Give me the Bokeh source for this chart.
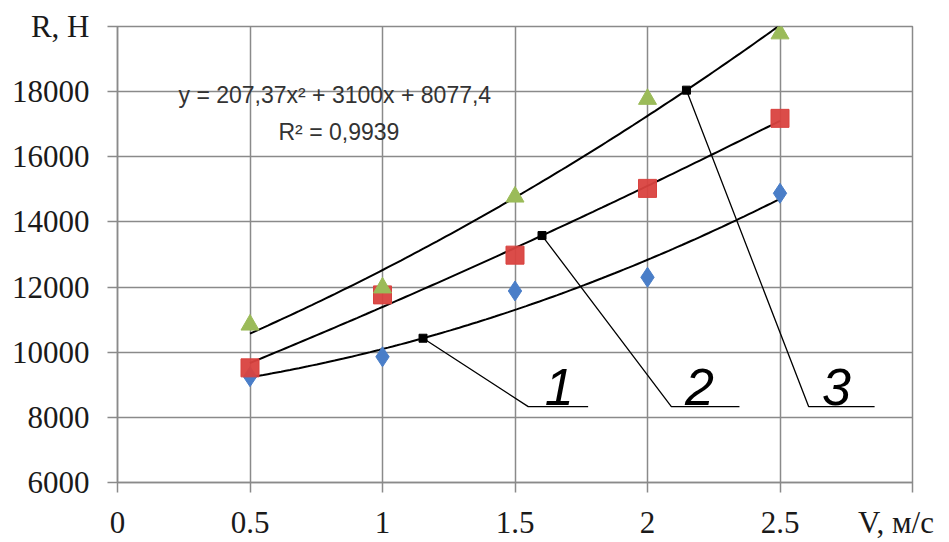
import numpy as np
from bokeh.plotting import figure
from bokeh.models import Range1d, FixedTicker, CustomJSTickFormatter, Label, ColumnDataSource
from bokeh.core.properties import value
from bokeh.embed import file_html
from bokeh.resources import INLINE

# ---- data ----
speed = [0.5, 1.0, 1.5, 2.0, 2.5]
series1 = [9250, 9860, 11880, 12300, 14880]     # blue diamonds
series2 = [9520, 11760, 12980, 15030, 17180]    # red squares
series3 = [10840, 11980, 14770, 17770, 19780]   # green triangles
x_ticks = [0, 0.5, 1, 1.5, 2, 2.5, 3]
y_ticks = [6000, 8000, 10000, 12000, 14000, 16000, 18000, 20000]
eq_text = "y = 207,37x\u00b2 + 3100x + 8077,4"
r2_text = "R\u00b2 = 0,9939"
y_title = "R, H"
x_title = "V, \u043c/\u0441"

# annotation callouts (curve point x, elbow x, end x, label x, label)
call_curve_x = [1.153, 1.602, 2.147]
call_elbow_x = [1.55, 2.09, 2.608]
call_end_x = [1.776, 2.347, 2.857]
call_label_x = [1.667, 2.196, 2.713]
call_line_y = 8330
call_labels = ["1", "2", "3"]

GRID = "#8a8a8a"
BLUE = "#4A7EC8"
RED = "#D9423F"
GREEN = "#9BBB59"

p = figure(width=949, height=542, output_backend="svg", toolbar_location=None,
           x_range=Range1d(0, 3), y_range=Range1d(6000, 20000),
           min_border_left=117, min_border_right=37, min_border_top=26, min_border_bottom=59)
p.background_fill_color = "white"
p.border_fill_color = "white"
p.outline_line_color = GRID
p.outline_line_width = 1.5

p.xaxis.ticker = FixedTicker(ticks=x_ticks)
p.yaxis.ticker = FixedTicker(ticks=y_ticks)
pad = "\u00a0" * 2
p.xaxis.formatter = CustomJSTickFormatter(
    code="return tick == 3 ? %r : String(tick);" % (x_title + pad))
p.yaxis.formatter = CustomJSTickFormatter(
    code="return tick == 20000 ? %r : String(tick);" % y_title)
for ax in (p.xaxis, p.yaxis):
    ax.axis_line_color = GRID
    ax.axis_line_width = 1.5
    ax.major_tick_line_color = GRID
    ax.major_tick_line_width = 1.5
    ax.major_tick_out = 10
    ax.major_tick_in = 0
    ax.minor_tick_line_color = None
    ax.major_label_text_font = "Liberation Serif"
    ax.major_label_text_font_size = "31px"
    ax.major_label_text_color = "#1a1a1a"
p.xaxis.major_label_standoff = 12
p.yaxis.major_label_standoff = 18

p.xgrid.grid_line_color = GRID
p.ygrid.grid_line_color = GRID
p.xgrid.grid_line_width = 1.5
p.ygrid.grid_line_width = 1.5

# trend lines (quadratic fits of each series)
xs = np.linspace(speed[0], speed[-1], 120)
fits = [np.polyfit(speed, s, 2) for s in (series1, series2, series3)]
for c in fits:
    p.line(xs, np.polyval(c, xs), line_color="black", line_width=2)

# markers
p.scatter(speed, series1, marker="diamond", size=20, fill_color=BLUE, line_color=BLUE)
p.scatter(speed, series2, marker="square", size=18, fill_color=RED, line_color=RED, fill_alpha=0.95)
p.scatter(speed, series3, marker="triangle", size=18, fill_color=GREEN, line_color=GREEN)

# callouts
cy = [float(np.polyval(c, x)) for c, x in zip(fits, call_curve_x)]
for i in range(3):
    p.line([call_curve_x[i], call_elbow_x[i], call_end_x[i]],
           [cy[i], call_line_y, call_line_y], line_color="black", line_width=1.3)
p.scatter(call_curve_x, cy, marker="square", size=8, fill_color="black", line_color="black")
src = ColumnDataSource(dict(x=call_label_x, y=[call_line_y + 60] * 3, t=call_labels))
p.text(x="x", y="y", text="t", source=src, text_font=value("Liberation Sans"),
       text_font_style="italic", text_font_size="52px", text_align="center",
       text_baseline="bottom", text_color="black")

# equation labels
p.add_layout(Label(x=61, y=388, x_units="screen", y_units="screen", text=eq_text,
                   text_font="Liberation Sans", text_font_size="23px", text_color="#333333",
                   text_baseline="middle"))
p.add_layout(Label(x=161, y=351, x_units="screen", y_units="screen", text=r2_text,
                   text_font="Liberation Sans", text_font_size="23px", text_color="#333333",
                   text_baseline="middle"))

open("out.html", "w").write(file_html(p, INLINE))
